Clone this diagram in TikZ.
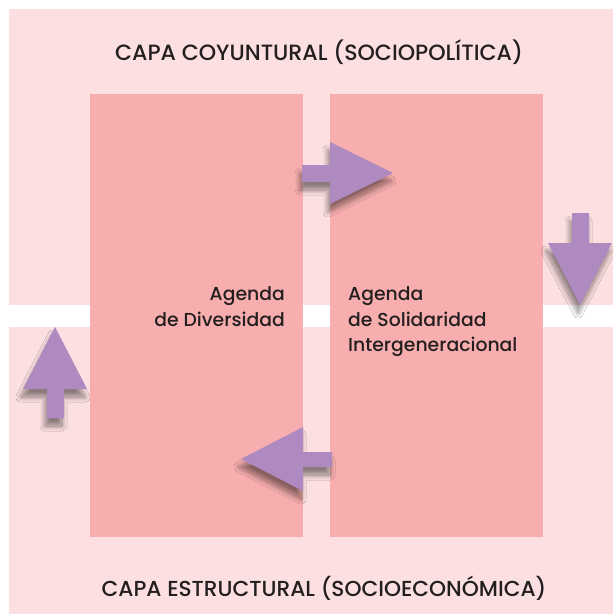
\documentclass[tikz,border=0pt]{standalone}
\usepackage{fontspec}
\IfFontExistsTF{Poppins Medium}{\setmainfont{Poppins Medium}}{\setmainfont{Poppins}[FakeBold=0.6]}
\usetikzlibrary{shadows.blur}
\definecolor{bandpink}{RGB}{252,223,224}
\definecolor{boxpink}{RGB}{248,174,174}
\definecolor{arrowpurple}{RGB}{174,138,193}
\definecolor{txt}{RGB}{35,31,32}
\tikzset{
  band/.style={fill=bandpink, draw=none},
  agenda/.style={fill=boxpink, draw=none},
  bigarrow/.style={fill=arrowpurple, draw=none,
    blur shadow={shadow xshift=-2pt, shadow yshift=-8pt, shadow blur steps=16, shadow opacity=45, shadow blur radius=5pt}},
  title/.style={font=\fontsize{22.1}{26}\selectfont, text=txt, inner sep=0pt, anchor=base},
  label/.style={font=\fontsize{18.8}{22}\selectfont, text=txt, inner sep=0pt},
}
\begin{document}
\begin{tikzpicture}[x=1pt,y=-1pt]
\useasboundingbox (0,0) rectangle (613,615);
\fill[white] (0,0) rectangle (613,615);
% layers
\fill[band] (9,9) rectangle (613,305);
\fill[band] (9,327) rectangle (613,614);
% agenda boxes
\fill[agenda] (90,94) rectangle (303,537);
\fill[agenda] (330,94) rectangle (543,537);
% arrows
\fill[bigarrow] (302,165) -- (330,165) -- (330,142) -- (393,173) -- (330,204) -- (330,182) -- (302,182) -- cycle;
\fill[bigarrow] (572,213) -- (589,213) -- (589,243) -- (612,243) -- (580,305) -- (548,243) -- (572,243) -- cycle;
\fill[bigarrow] (47,418) -- (47,389) -- (23,389) -- (55,327) -- (87,389) -- (64,389) -- (64,418) -- cycle;
\fill[bigarrow] (332,452) -- (303,452) -- (303,427) -- (241,459) -- (303,491) -- (303,467) -- (332,467) -- cycle;
% texts
\node[title] (top) at (319,61) {CAPA COYUNTURAL (SOCIOPOLÍTICA)};
\node[title, font=\fontsize{21.7}{26}\selectfont] (bottom) at (324,596) {CAPA ESTRUCTURAL (SOCIOECONÓMICA)};
\node[label, anchor=base east] (d1) at (285,300) {Agenda};
\node[label, anchor=base east] (d2) at (285,326) {de Diversidad};
\node[label, anchor=base west] (s1) at (348,300) {Agenda};
\node[label, anchor=base west] (s2) at (348,326) {de Solidaridad};
\node[label, anchor=base west] (s3) at (348,351) {Intergeneracional};
\end{tikzpicture}
\end{document}
